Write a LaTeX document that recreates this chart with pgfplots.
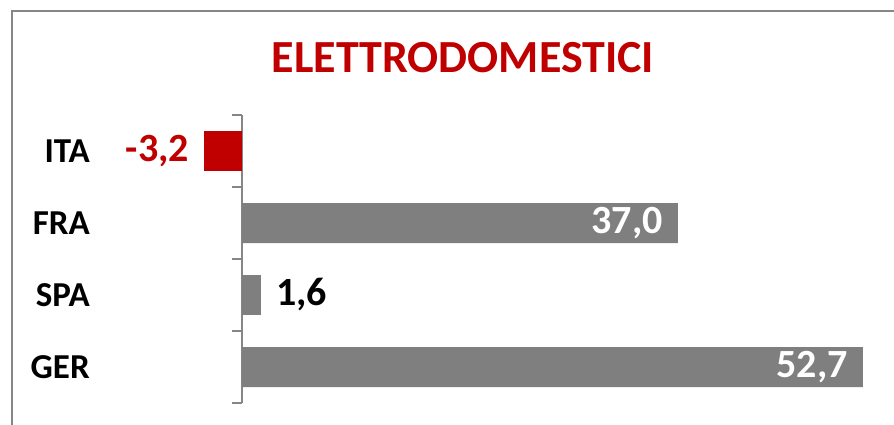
\documentclass[border=0pt]{standalone}
\usepackage{pgfplots}
\pgfplotsset{compat=1.18}
\usepackage{fontspec}
\setmainfont{Carlito}
\definecolor{myred}{HTML}{C00000}
\definecolor{mygray}{HTML}{7F7F7F}
\definecolor{axgray}{HTML}{868686}
\begin{document}
\begin{tikzpicture}[x=1pt,y=1pt]
\useasboundingbox (0,-21) rectangle (894,403);
\draw[axgray, line width=1.5pt] (12,-30) -- (12,392) -- (900,392);
\node[text=myred, font=\fontsize{46}{50}\selectfont\bfseries] at (463,345) {ELETTRODOMESTICI};
\begin{axis}[
  at={(0pt,0pt)}, anchor=south west,
  scale only axis, width=894pt, height=288pt,
  xmin=-20.54, xmax=55.35, ymin=-0.5, ymax=3.5,
  axis x line=none, axis y line=middle,
  axis line style={axgray, line width=1.3pt, -},
  ytick={0,1,2,3}, yticklabels={GER,SPA,FRA,ITA},
  major tick length=0pt,
  minor ytick={-0.5,0.5,1.5,2.5,3.5},
  minor tick length=10pt,
  tick align=outside,
  minor tick style={axgray, line width=1.3pt},
  yticklabel style={font=\fontsize{35}{40}\selectfont\bfseries, anchor=east, inner sep=0pt, xshift=-152pt},
  /pgf/number format/assume math mode=true,
  nodes near coords={\pgfmathprintnumber[fixed,fixed zerofill,precision=1,use comma,assume math mode=true]{\pgfplotspointmeta}},
  point meta=x,
  clip=false,
]
\addplot[xbar, bar width=40pt, bar shift=0pt, fill=myred, draw=none,
  nodes near coords style={anchor=east, inner sep=0pt, xshift=-15pt, text=myred, font=\fontsize{40}{44}\selectfont\bfseries}]
  coordinates {(-3.2,3)};
\addplot[xbar, bar width=40pt, bar shift=0pt, fill=mygray, draw=none,
  nodes near coords style={anchor=east, inner sep=0pt, xshift=-15pt, text=white, font=\fontsize{40}{44}\selectfont\bfseries}]
  coordinates {(37.0,2) (52.7,0)};
\addplot[xbar, bar width=40pt, bar shift=0pt, fill=mygray, draw=none,
  nodes near coords style={anchor=west, inner sep=0pt, xshift=15pt, text=black, font=\fontsize{40}{44}\selectfont\bfseries}]
  coordinates {(1.6,1)};
\end{axis}
\end{tikzpicture}
\end{document}
